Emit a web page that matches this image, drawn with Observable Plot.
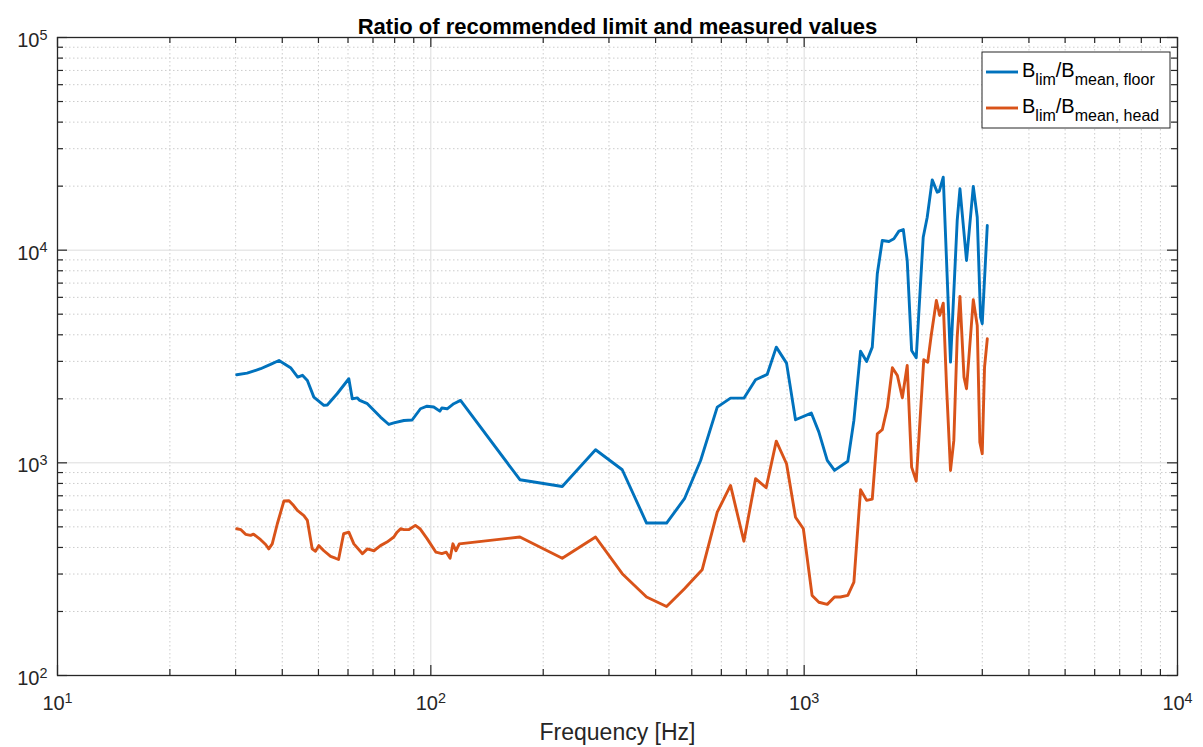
<!DOCTYPE html>
<html><head><meta charset="utf-8">
<script src="https://cdn.jsdelivr.net/npm/d3@7"></script>
<script src="https://cdn.jsdelivr.net/npm/@observablehq/plot@0.6"></script>
<style>body{margin:0;background:#fff} svg{display:block}</style>
</head><body><div id="chart"></div>
<script>
const title = "Ratio of recommended limit and measured values";
const xLabel = "Frequency [Hz]";
const legendSubs = ["mean, floor", "mean, head"];
const colors = ["#0072BD", "#D95319"];

const freqFloor = [30.2,32.2,35.0,37.2,39.2,42.1,44.0,45.3,46.7,48.6,51.7,52.8,56.1,60.3,61.6,63.5,64.5,67.6,73.3,77.2,79.6,84.7,89.1,93.8,97.7,101.8,105.7,107.0,110.6,115.2,120.1,173.2,224.9,276.2,325.6,378.3,428,478,528,585,635,689.5,741,796,842,897,948,1045,1095,1153,1206,1309,1359,1416,1470,1522,1570,1619,1687,1739,1794,1843,1888,1940,1996,2084,2136,2203,2272,2300,2358,2416,2466,2570,2614,2722,2838,2908,2968,2999,3094];
const valFloor = [2594,2640,2770,2902,3030,2800,2530,2580,2440,2037,1862,1870,2113,2485,2000,2020,1966,1897,1641,1515,1540,1582,1590,1796,1846,1830,1750,1810,1795,1897,1966,833,774,1152,928,521,521,678,1026,1828,2014,2014,2459,2604,3500,2944,1594,1714,1394,1026,921,1018,1583,3350,2997,3500,7745,11107,10990,11310,12285,12500,8947,3376,3119,11510,14290,21410,18740,18900,22030,7468,2974,13790,19440,8947,19930,14290,4842,4508,13060];

const freqHead = [30.2,31.0,31.9,32.9,33.5,35.0,36.1,36.8,37.6,38.8,40.4,41.7,42.9,43.9,45.7,46.7,48.1,49.1,50.1,51.7,53.9,55.5,56.6,58.4,60.3,62.2,65.6,67.6,70.4,73.3,76.3,79.6,81.2,83.0,84.7,87.2,90.9,93.5,97.7,103.2,107.0,110,112.6,114.6,116.7,119.2,173.2,224.9,276.2,325.6,378.3,428,478,533,585,635,689.5,741,791,842,897,948,995,1050,1095,1153,1206,1250,1309,1359,1416,1470,1522,1570,1619,1671,1723,1777,1832,1888,1940,1996,2091,2143,2189,2260,2307,2358,2407,2466,2517,2570,2614,2680,2722,2838,2908,2955,2999,3042,3094];
const valHead = [490,485,461,456,462,435,413,394,416,517,661,663,630,597,565,536,394,384,408,386,363,356,351,464,472,416,374,394,386,408,424,448,472,490,485,485,508,490,440,380,374,380,356,416,386,416,448,356,448,301,234,211,256,314,586,783,428,842,764,1265,990,555,490,238,221,216,234,234,238,275,747,666,675,1370,1431,1828,2800,2576,2023,2871,955,820,3052,2974,3972,5800,4932,5636,2270,921,1275,3900,6058,2530,2230,5846,4426,1251,1104,2818,3831];

const xMajor = [10, 100, 1000, 10000];
const yMajor = [100, 1000, 10000, 100000];
const minorOf = (majors) => majors.slice(0, -1).flatMap(d => [2,3,4,5,6,7,8,9].map(k => k * d));
const xMinor = minorOf(xMajor);
const yMinor = minorOf(yMajor);

const W = 1203, H = 747, mL = 57, mR = 26, mT = 37, mB = 72;
const ih = H - mT - mB, iw = W - mL - mR;
const ink = "#262626";

const floorData = freqFloor.map((f, i) => ({f, v: valFloor[i]}));
const headData = freqHead.map((f, i) => ({f, v: valHead[i]}));
const expFmt = d => "10^" + Math.round(Math.log10(d));

const plot = Plot.plot({
  width: W, height: H,
  marginLeft: mL, marginRight: mR, marginTop: mT, marginBottom: mB,
  style: {fontFamily: "'Liberation Sans', Arial, sans-serif", background: "#fff", overflow: "visible"},
  x: {type: "log", domain: [10, 1e4]},
  y: {type: "log", domain: [100, 1e5]},
  marks: [
    Plot.ruleX(xMinor, {stroke: "#cccccc", strokeWidth: 1, strokeDasharray: "1.5,2.5"}),
    Plot.ruleY(yMinor, {stroke: "#cccccc", strokeWidth: 1, strokeDasharray: "1.5,2.5"}),
    Plot.ruleX(xMajor.slice(1, -1), {stroke: "#dcdcdc", strokeWidth: 1}),
    Plot.ruleY(yMajor.slice(1, -1), {stroke: "#dcdcdc", strokeWidth: 1}),
    Plot.line(floorData, {x: "f", y: "v", stroke: colors[0], strokeWidth: 2.9}),
    Plot.line(headData, {x: "f", y: "v", stroke: colors[1], strokeWidth: 2.9}),
    Plot.tickX(xMajor, {x: d => d, insetTop: ih - 10, stroke: ink, strokeWidth: 1.2}),
    Plot.tickX(xMajor, {x: d => d, insetBottom: ih - 10, stroke: ink, strokeWidth: 1.2}),
    Plot.tickX(xMinor, {x: d => d, insetTop: ih - 6, stroke: ink, strokeWidth: 1.2}),
    Plot.tickX(xMinor, {x: d => d, insetBottom: ih - 6, stroke: ink, strokeWidth: 1.2}),
    Plot.tickY(yMajor, {y: d => d, insetRight: iw - 10, stroke: ink, strokeWidth: 1.2}),
    Plot.tickY(yMajor, {y: d => d, insetLeft: iw - 10, stroke: ink, strokeWidth: 1.2}),
    Plot.tickY(yMinor, {y: d => d, insetRight: iw - 6, stroke: ink, strokeWidth: 1.2}),
    Plot.tickY(yMinor, {y: d => d, insetLeft: iw - 6, stroke: ink, strokeWidth: 1.2}),
    Plot.frame({stroke: ink, strokeWidth: 1.3}),
    Plot.axisX({ticks: xMajor, tickFormat: expFmt, tickSize: 0, tickPadding: 20, fontSize: 20, fill: ink, label: null}),
    Plot.axisY({ticks: yMajor, tickFormat: expFmt, tickSize: 0, tickPadding: 10, fontSize: 20, fill: ink, label: null, dy: 3}),
    Plot.text([title], {text: d => d, frameAnchor: "top", lineAnchor: "bottom", dy: -4, fontSize: 22, fontWeight: "bold", fill: "#000"}),
    Plot.text([xLabel], {text: d => d, frameAnchor: "bottom", lineAnchor: "top", dy: 48, fontSize: 23, fill: ink})
  ]
});

// superscript exponents on tick labels
d3.select(plot).selectAll("text").each(function () {
  const t = this.textContent;
  if (/^10\^\d$/.test(t)) {
    const e = t.split("^")[1];
    const s = d3.select(this);
    s.text(null);
    s.append("tspan").text("10");
    s.append("tspan").attr("dy", "-0.5em").attr("font-size", "0.72em").text(e);
  }
});

// legend
const svg = d3.select(plot);
const lg = svg.append("g").attr("font-family", "'Liberation Sans', Arial, sans-serif")
  .attr("fill", "#000").attr("text-anchor", "start");
lg.append("rect").attr("x", 982).attr("y", 52).attr("width", 188).attr("height", 76)
  .attr("fill", "#fff").attr("stroke", ink).attr("stroke-width", 1);
legendSubs.forEach((sub, i) => {
  const by = 77 + i * 36;
  lg.append("line").attr("x1", 986).attr("x2", 1018).attr("y1", by - 5).attr("y2", by - 5)
    .attr("stroke", colors[i]).attr("stroke-width", 2.9);
  const t = lg.append("text").attr("x", 1022).attr("y", by).attr("font-size", 20).attr("text-anchor", "start");
  t.append("tspan").text("B");
  t.append("tspan").attr("dy", 8).attr("font-size", 16).text("lim");
  t.append("tspan").attr("dy", -8).text("/B");
  t.append("tspan").attr("dy", 8).attr("font-size", 16).text(sub);
});

document.getElementById("chart").appendChild(plot);
</script>
</body></html>
